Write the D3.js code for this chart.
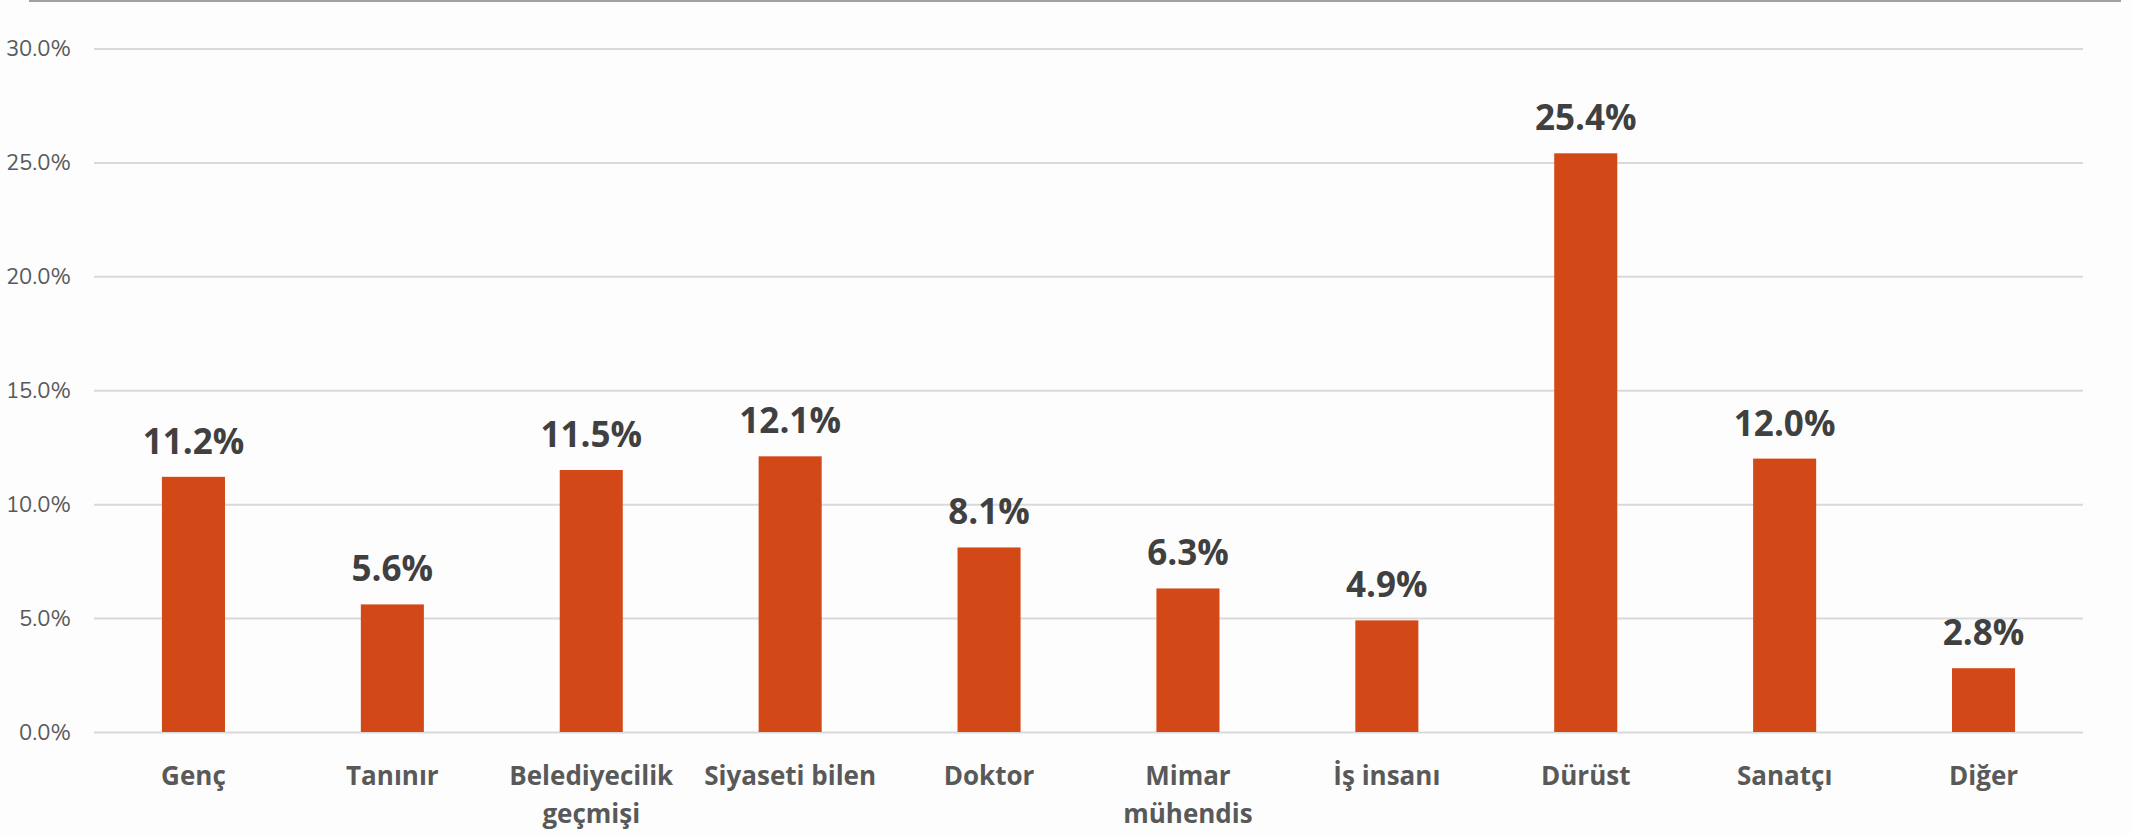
<!DOCTYPE html>
<html>
<head>
<meta charset="utf-8">
<script src="https://cdn.jsdelivr.net/npm/d3@7"></script>
<style>
  html, body { margin: 0; padding: 0; background: #fdfdfd; }
  svg { display: block; }
</style>
</head>
<body>
<div id="app"></div>
<script>
// categories (line breaks as in the reference)
const categories = [
  ["Genç"], ["Tanınır"], ["Belediyecilik", "geçmişi"], ["Siyaseti bilen"],
  ["Doktor"], ["Mimar", "mühendis"], ["İş insanı"], ["Dürüst"], ["Sanatçı"], ["Diğer"]
];
const values = [11.2, 5.6, 11.5, 12.1, 8.1, 6.3, 4.9, 25.4, 12.0, 2.8];
const yTicks = [0, 5, 10, 15, 20, 25, 30];

const width = 2131, height = 834;
const margin = { top: 48.5, right: 48, bottom: 102, left: 94 };

const svg = d3.select("#app").append("svg")
  .attr("width", width)
  .attr("height", height);

svg.append("rect").attr("width", width).attr("height", height).attr("fill", "#fdfdfd");

// 上の区切り線
svg.append("line")
  .attr("x1", 29).attr("x2", 2121)
  .attr("y1", 1).attr("y2", 1)
  .attr("stroke", "#a0a0a0").attr("stroke-width", 2);

const x = d3.scaleBand()
  .domain(d3.range(categories.length))
  .range([margin.left, width - margin.right])
  .paddingInner(0.683)
  .paddingOuter(0.3415);

const y = d3.scaleLinear()
  .domain([0, 30])
  .range([height - margin.bottom, margin.top]);

// grid + y labels
const yAxis = d3.axisLeft(y)
  .tickValues(yTicks)
  .tickSize(-(width - margin.left - margin.right))
  .tickPadding(23)
  .tickFormat(d => d.toFixed(1) + "%");

const gy = svg.append("g")
  .attr("transform", `translate(${margin.left},0)`)
  .call(yAxis);
gy.select(".domain").remove();
gy.selectAll(".tick line").attr("stroke", "#d9d9d9").attr("stroke-width", 2);
gy.selectAll(".tick text")
  .attr("fill", "#595959")
  .style("font-family", "'Nunito', 'Open Sans', sans-serif")
  .style("font-size", "22px");

// bars
svg.append("g").selectAll("rect")
  .data(values)
  .join("rect")
  .attr("x", (d, i) => x(i))
  .attr("y", d => y(d))
  .attr("width", x.bandwidth())
  .attr("height", d => y(0) - y(d))
  .attr("fill", "#d34817");

// value labels
svg.append("g").selectAll("text")
  .data(values)
  .join("text")
  .attr("x", (d, i) => x(i) + x.bandwidth() / 2)
  .attr("y", d => y(d) - 23)
  .attr("text-anchor", "middle")
  .attr("fill", "#404040")
  .style("font-family", "'Open Sans', sans-serif")
  .style("font-weight", "bold")
  .style("font-size", "35px")
  .text(d => d.toFixed(1) + "%");

// category labels
const xl = svg.append("g").selectAll("text")
  .data(categories)
  .join("text")
  .attr("x", (d, i) => x(i) + x.bandwidth() / 2)
  .attr("y", 785)
  .attr("text-anchor", "middle")
  .attr("fill", "#595959")
  .style("font-family", "'Open Sans', sans-serif")
  .style("font-weight", "bold")
  .style("font-size", "26px");
xl.selectAll("tspan")
  .data(d => d)
  .join("tspan")
  .attr("x", function () { return this.parentNode.getAttribute("x"); })
  .attr("dy", (d, i) => i === 0 ? 0 : 38)
  .text(d => d);
</script>
</body>
</html>
